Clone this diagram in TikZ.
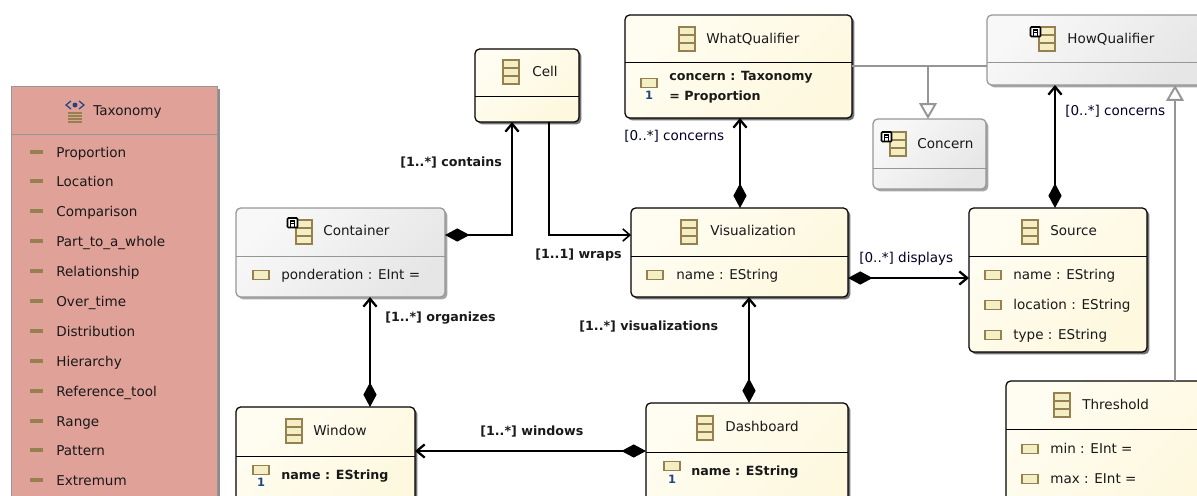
\documentclass[tikz,border=0pt]{standalone}
\usepackage{fontspec}
\setmainfont{DejaVu Sans}
\usetikzlibrary{arrows.meta, shadows}
\definecolor{creamlight}{RGB}{255, 253, 242}
\definecolor{creamdark}{RGB}{253, 248, 222}
\definecolor{greylight}{RGB}{248, 248, 248}
\definecolor{greydark}{RGB}{230, 230, 230}
\definecolor{enumred}{RGB}{224, 161, 153}
\definecolor{iconbrown}{RGB}{150, 128, 80}
\definecolor{iconfill}{RGB}{243, 238, 196}
\definecolor{keyblue}{RGB}{32, 70, 130}
\definecolor{linkgrey}{RGB}{150, 150, 150}
\tikzset{
  basebox/.style={rectangle, rounded corners=2.6pt, inner sep=0pt, outer sep=0pt},
  classbox/.style={basebox, draw=black, line width=0.7pt, top color=creamlight, bottom color=creamdark, shading angle=45,
    drop shadow={shadow xshift=1.3pt, shadow yshift=-1.3pt, fill=black, opacity=0.55}},
  abstractbox/.style={basebox, draw=linkgrey, line width=0.7pt, top color=greylight, bottom color=greydark, shading angle=45,
    drop shadow={shadow xshift=1.3pt, shadow yshift=-1.3pt, fill=black, opacity=0.35}},
  enumbox/.style={rectangle, inner sep=0pt, outer sep=0pt, draw=linkgrey, line width=0.5pt, fill=enumred,
    drop shadow={shadow xshift=1.5pt, shadow yshift=-1.5pt, fill=black, opacity=0.45}},
  title/.style={font=\fontsize{7.7}{9}\selectfont, anchor=west, inner sep=0pt, text height=7.5pt, text depth=1.3pt, text=black!90},
  attr/.style={title},
  keyattr/.style={title, font=\fontsize{7.2}{9}\selectfont\bfseries},
  role/.style={title, text=black!85!blue},
  strongrole/.style={keyattr},
  keymark/.style={font=\fontsize{6.5}{7}\selectfont\bfseries, text=keyblue, inner sep=0pt},
  compo/.style={{Diamond[length=14pt, width=7.5pt]}-{Straight Barb[length=4.5pt, width=7.5pt]}, line width=1.3pt, black},
  ref/.style={-{Straight Barb[length=4pt, width=7pt]}, line width=0.9pt, black},
  inherit/.style={-{Triangle[open, length=9pt, width=10pt, fill=white]}, line width=1.1pt, linkgrey},
  classicon/.pic={
    \draw[iconbrown, fill=iconfill, line width=1.1pt] (-8,-12) rectangle (8,12);
    \draw[iconbrown, line width=0.9pt] (-8,-4) -- (8,-4) (-8,4) -- (8,4);
  },
  markicon/.pic={
    \draw[black, fill=white, line width=0.9pt, rounded corners=0.5pt] (-5.5,-5) rectangle (4.5,4.5);
    \draw[black, line width=0.7pt] (-2.5,3.5) -- (-2.5,-2) -- (1.5,-2) -- (1.5,3.5) (-2.5,0.5) -- (1.5,0.5);
  },
  attricon/.pic={
    \draw[iconbrown, fill=iconfill, line width=1.1pt] (-8,-4.5) rectangle (8,4.5);
  },
  literalicon/.pic={
    \fill[iconbrown] (-6.5,-1.8) rectangle (6.5,1.8);
  },
  enumicon/.pic={
    \draw[keyblue, line width=0.7pt] (-4,-9) -- (-9,-5) -- (-4,-1) (4,-9) -- (9,-5) -- (4,-1);
    \fill[keyblue] (0,-5) circle (2.5);
    \draw[iconbrown, line width=0.8pt] (-7,3) -- (7,3) (-7,6) -- (7,6) (-7,9) -- (7,9) (-7,12) -- (7,12);
  }
}
\begin{document}
\begin{tikzpicture}[x=0.02cm, y=-0.02cm]
  \useasboundingbox (0,0) rectangle (1197,495);
  \clip (0,0) rectangle (1197,495);

  % Boxes
  \node[enumbox, minimum width=4.12cm, minimum height=8.58cm] (taxonomy) at (114,300.5) {};
  \node[classbox, minimum width=2.08cm, minimum height=1.46cm] (cell) at (527,85.5) {};
  \node[classbox, minimum width=4.54cm, minimum height=2.06cm] (what) at (738.5,66.5) {};
  \node[abstractbox, minimum width=4.46cm, minimum height=1.40cm] (how) at (1098.5,50) {};
  \node[abstractbox, minimum width=2.26cm, minimum height=1.40cm] (concern) at (929.5,154) {};
  \node[abstractbox, minimum width=4.18cm, minimum height=1.78cm] (container) at (340.5,252.5) {};
  \node[classbox, minimum width=4.34cm, minimum height=1.78cm] (visu) at (739.5,252.5) {};
  \node[classbox, minimum width=3.56cm, minimum height=2.88cm] (source) at (1058,280) {};
  \node[classbox, minimum width=3.58cm, minimum height=2.16cm] (window) at (325.5,461) {};
  \node[classbox, minimum width=4.04cm, minimum height=2.24cm] (dash) at (747,459) {};
  \node[classbox, minimum width=4.08cm, minimum height=2.68cm] (threshold) at (1108,448) {};

  % Dividers
  \draw[linkgrey, line width=0.5pt] (taxonomy.west |- 0,134) -- (taxonomy.east |- 0,134);
  \draw[black, line width=0.5pt] (cell.west |- 0,96) -- (cell.east |- 0,96);
  \draw[black, line width=0.5pt] (what.west |- 0,62) -- (what.east |- 0,62);
  \draw[linkgrey, line width=0.5pt] (how.west |- 0,62) -- (how.east |- 0,62);
  \draw[linkgrey, line width=0.5pt] (concern.west |- 0,168) -- (concern.east |- 0,168);
  \draw[linkgrey, line width=0.5pt] (container.west |- 0,256) -- (container.east |- 0,256);
  \draw[black, line width=0.5pt] (visu.west |- 0,256) -- (visu.east |- 0,256);
  \draw[black, line width=0.5pt] (source.west |- 0,256) -- (source.east |- 0,256);
  \draw[black, line width=0.5pt] (window.west |- 0,456) -- (window.east |- 0,456);
  \draw[black, line width=0.5pt] (dash.west |- 0,452) -- (dash.east |- 0,452);
  \draw[black, line width=0.5pt] (threshold.west |- 0,429) -- (threshold.east |- 0,429);

  % Titles
  \pic at (75,110) {enumicon};
  \node[title] (taxonomyname) at (93,110) {Taxonomy};
  \pic at (511,72) {classicon};
  \node[title] (cellname) at (532,71) {Cell};
  \pic at (687,39) {classicon};
  \node[title] (whatname) at (706,38) {WhatQualifier};
  \pic at (1047,39) {classicon};
  \pic at (1036,32) {markicon};
  \node[title] (howname) at (1067,38) {HowQualifier};
  \pic at (898,144) {classicon};
  \pic at (887,137) {markicon};
  \node[title] (concernname) at (917,143) {Concern};
  \pic at (304,232) {classicon};
  \pic at (293,223) {markicon};
  \node[title] (containername) at (323,230) {Container};
  \pic at (689,232) {classicon};
  \node[title] (visuname) at (710,230) {Visualization};
  \pic at (1030,232) {classicon};
  \node[title] (sourcename) at (1050,230) {Source};
  \pic at (294,431) {classicon};
  \node[title] (windowname) at (313,430) {Window};
  \pic at (705,428) {classicon};
  \node[title] (dashname) at (725,426) {Dashboard};
  \pic at (1062,405) {classicon};
  \node[title] (thresholdname) at (1082,404) {Threshold};

  % Literals
  \foreach \lit/\yy [count=\i] in {Proportion/152, Location/181, Comparison/211, Part\_to\_a\_whole/241,
      Relationship/271, Over\_time/301, Distribution/331, Hierarchy/361, Reference\_tool/391, Range/421,
      Pattern/450, Extremum/480} {
    \pic at (36.5,\yy) {literalicon};
    \node[attr] (lit\i) at (56,\yy) {\lit};
  }

  % Attributes
  \pic at (649,83) {attricon};
  \node[keymark] (whatkey) at (649,95) {1};
  \node[keyattr] (whatattr) at (669,75) {concern : Taxonomy};
  \node[keyattr] (whatdefault) at (669,95) {= Proportion};
  \pic at (261,275) {attricon};
  \node[attr] (containerattr) at (281,274) {ponderation : EInt =};
  \pic at (655,275) {attricon};
  \node[attr] (visuattr) at (676,274) {name : EString};
  \pic at (993,275) {attricon};
  \node[attr] (sourcea) at (1013,274) {name : EString};
  \pic at (993,305) {attricon};
  \node[attr] (sourceb) at (1013,304) {location : EString};
  \pic at (993,335) {attricon};
  \node[attr] (sourcec) at (1013,334) {type : EString};
  \pic at (261,470) {attricon};
  \node[keymark] (windowkey) at (261,482) {1};
  \node[keyattr] (windowattr) at (281,474) {name : EString};
  \pic at (672,466) {attricon};
  \node[keymark] (dashkey) at (672,479) {1};
  \node[keyattr] (dashattr) at (691,470) {name : EString};
  \pic at (1030,449) {attricon};
  \node[attr] (thresholda) at (1050,448) {min : EInt =};
  \pic at (1030,479) {attricon};
  \node[attr] (thresholdb) at (1050,478) {max : EInt =};

  % Composition links
  \draw[compo] (container.east |- 0,235) -| (cell.south -| 512,0);
  \draw[compo] (visu.north -| 740,0) -- (what.south -| 740,0);
  \draw[compo] (visu.east |- 0,278) -- (source.west |- 0,278);
  \draw[compo] (source.north -| 1055,0) -- (how.south -| 1055,0);
  \draw[compo] (dash.north -| 749,0) -- (visu.south -| 749,0);
  \draw[compo] (window.north -| 370,0) -- (container.south -| 370,0);
  \draw[compo] (dash.west |- 0,451) -- (window.east |- 0,451);

  % Plain reference
  \draw[ref] (cell.south -| 549,0) |- (visu.west |- 0,235);

  % Generalizations
  \draw[linkgrey, line width=1.1pt] (what.east |- 0,66) -- (how.west |- 0,66);
  \draw[inherit] (what.east -| 928,0) ++(0,-1) -- (concern.north -| 928,0);
  \draw[inherit] (threshold.north -| 1175,0) -- (how.south -| 1175,0);

  % Link labels
  \node[strongrole] (containslabel) at (400,161) {[1..*] contains};
  \node[strongrole] (wrapslabel) at (535,253) {[1..1] wraps};
  \node[role] (whatlabel) at (624,135) {[0..*] concerns};
  \node[role] (howlabel) at (1065,110) {[0..*] concerns};
  \node[role] (displayslabel) at (859,257) {[0..*] displays};
  \node[strongrole] (organizeslabel) at (385,316) {[1..*] organizes};
  \node[strongrole] (visulabel) at (579,325) {[1..*] visualizations};
  \node[strongrole] (windowslabel) at (480,430) {[1..*] windows};
\end{tikzpicture}
\end{document}
